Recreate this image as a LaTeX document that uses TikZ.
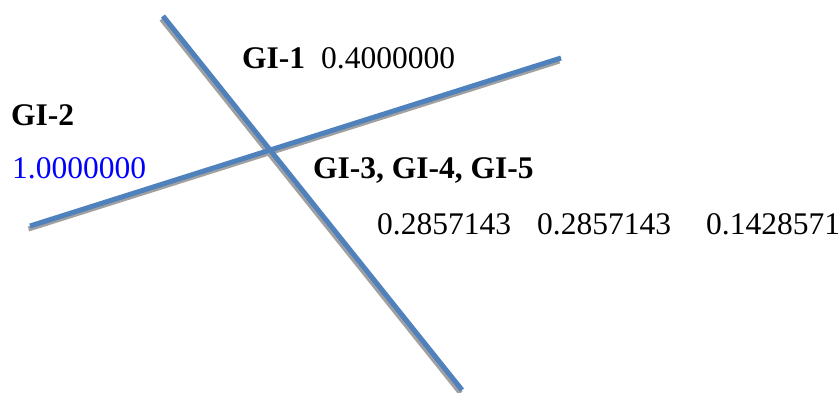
\documentclass[tikz,border=0pt]{standalone}
\usepackage{fontspec}
\setmainfont{Liberation Serif}
\definecolor{lineblue}{HTML}{4F81BD}
\definecolor{shadowgray}{HTML}{A0A0A0}
\definecolor{txtblue}{HTML}{0000FF}
\tikzset{
  lbl/.style={anchor=base west, inner sep=0pt, font=\fontsize{31.5}{36}\selectfont},
  bold/.style={lbl, font=\fontsize{31.5}{36}\selectfont\bfseries},
  shadowline/.style={draw=shadowgray, line width=5pt},
  mainline/.style={draw=lineblue, line width=5pt}
}
\begin{document}
\begin{tikzpicture}[x=1pt,y=-1pt]
\useasboundingbox (0,0) rectangle (840,392);
\coordinate (a1) at (163,16);
\coordinate (a2) at (462,390);
\coordinate (b1) at (30,226);
\coordinate (b2) at (561,58);
\begin{scope}[transform canvas={shift={(-1.5pt,-3pt)}}]
\draw[shadowline] (a1) -- (a2);
\draw[shadowline] (b1) -- (b2);
\end{scope}
\draw[mainline] (a1) -- (a2);
\draw[mainline] (b1) -- (b2);
\node[bold] (gi1) at (242,68) {GI-1};
\node[lbl] (v1) at (321,68) {0.4000000};
\node[bold] (gi2) at (11,125) {GI-2};
\node[lbl, text=txtblue] (v2) at (12,178) {1.0000000};
\node[bold] (gi3) at (313,178) {GI-3, GI-4, GI-5};
\node[lbl] (v3) at (377,234) {0.2857143};
\node[lbl] (v4) at (537,234) {0.2857143};
\node[lbl] (v5) at (706,234) {0.1428571};
\end{tikzpicture}
\end{document}
